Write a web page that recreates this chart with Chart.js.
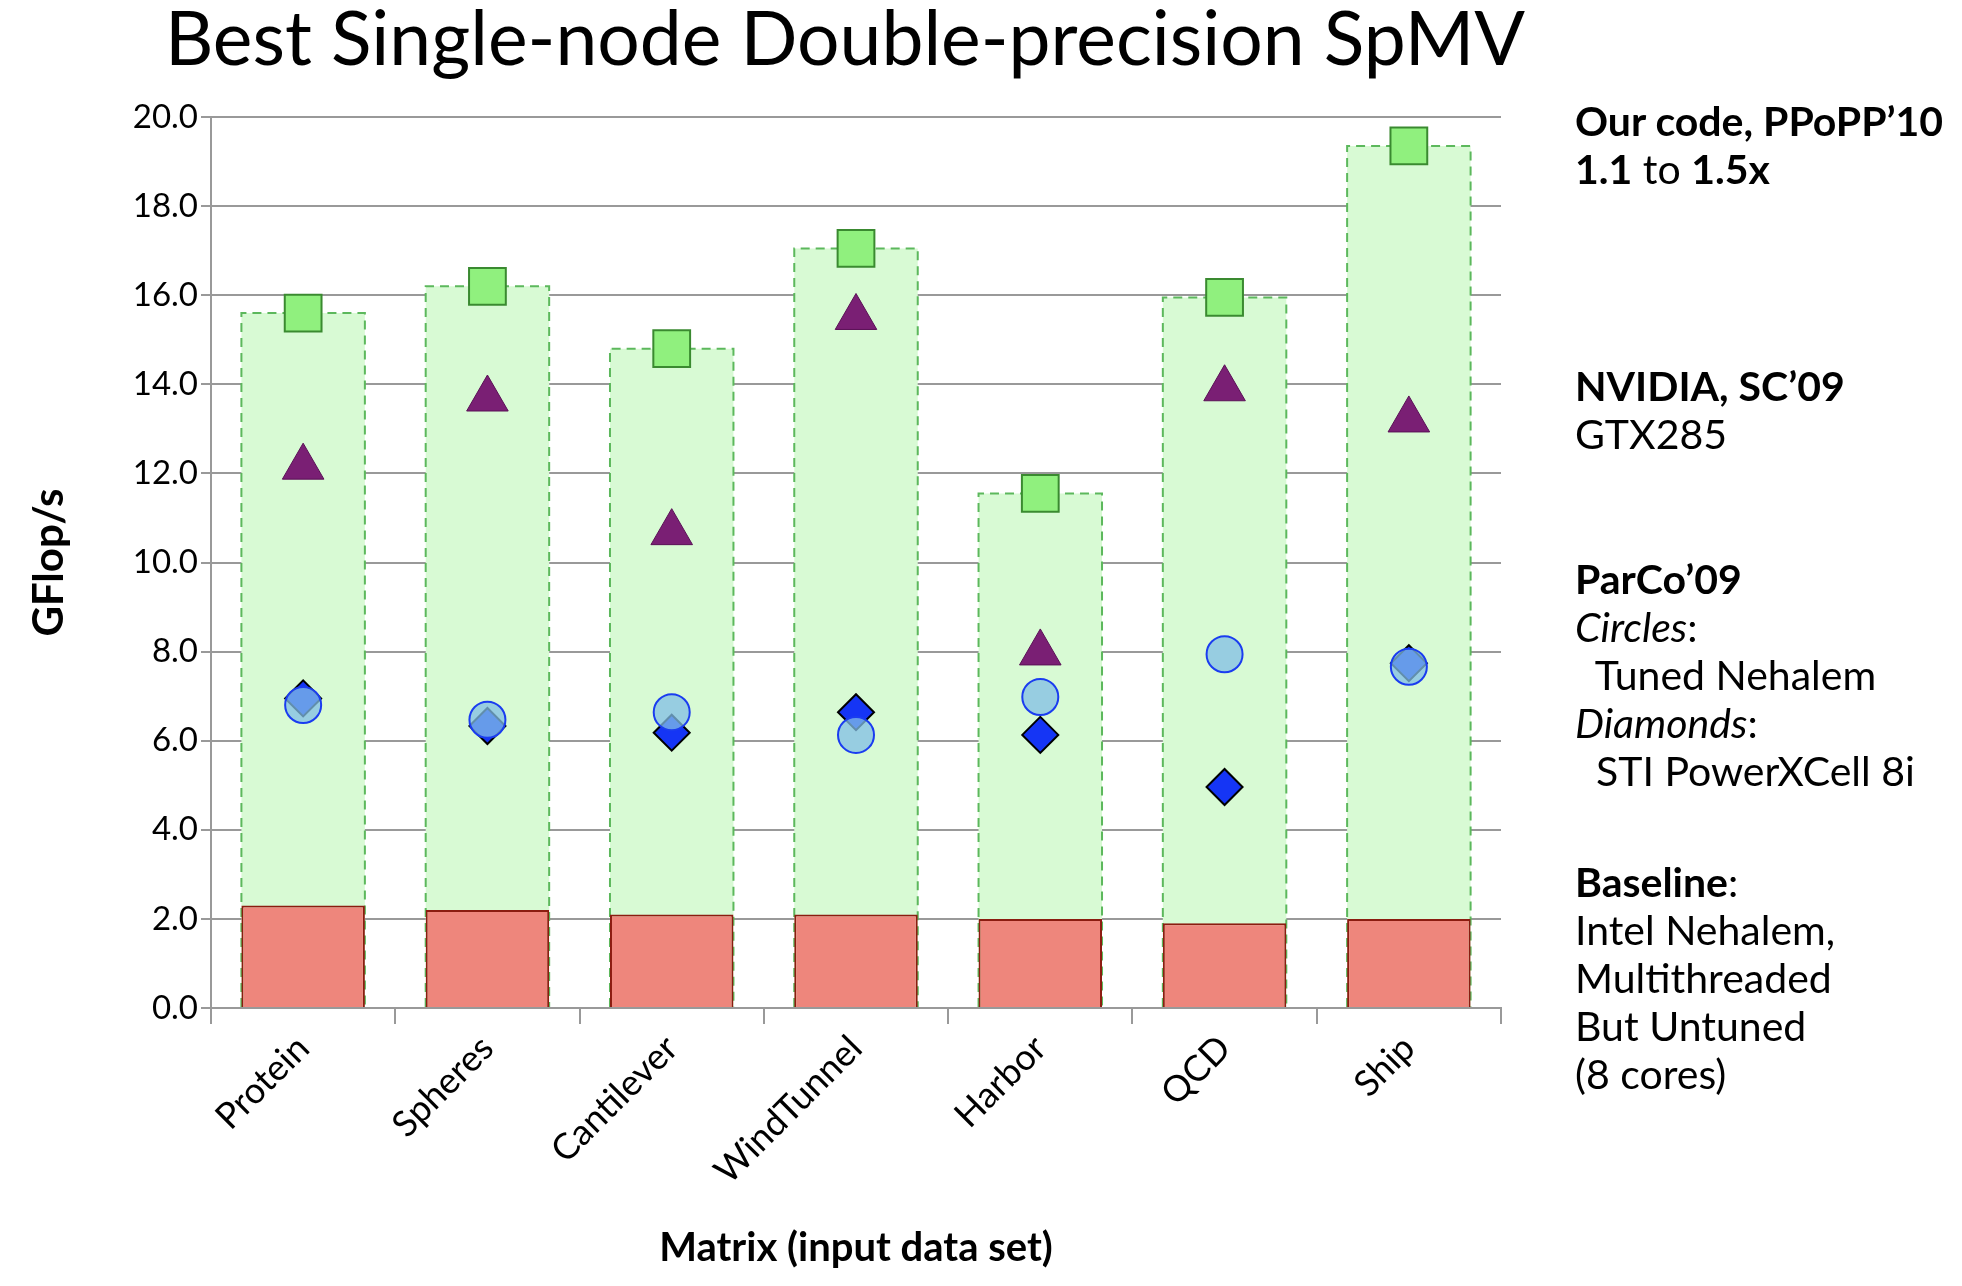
<!DOCTYPE html>
<html>
<head>
<meta charset="UTF-8">
<script src="https://cdn.jsdelivr.net/npm/chart.js"></script>
<style>
  body { margin: 0; background: #fff; }
  #wrap { position: relative; width: 1962px; height: 1286px; }
  #title { position: absolute; left: 110px; top: -4px; width: 1470px; text-align: center;
           font-family: Lato, "Open Sans", sans-serif; font-size: 75px; color: #000; line-height: 80px; }
  .note { position: absolute; left: 1575px; font-family: Lato, "Open Sans", sans-serif; font-size: 41px; color: #000;
          line-height: 48px; white-space: pre; }
  .b { font-weight: bold; }
</style>
</head>
<body>
<div id="wrap">
  <canvas id="chart" width="1962" height="1286"></canvas>
  <div id="title">Best Single-node Double-precision SpMV</div>
  <div class="note" style="top:97px"><span class="b">Our code, PPoPP’10</span>
<span class="b">1.1</span> to <span class="b">1.5x</span></div>
  <div class="note" style="top:362px"><span class="b">NVIDIA, SC’09</span>
GTX285</div>
  <div class="note" style="top:555px"><span class="b">ParCo’09</span>
<i>Circles</i>:
  Tuned Nehalem
<i>Diamonds</i>:
  STI PowerXCell 8i</div>
  <div class="note" style="top:858px"><span class="b">Baseline</span>:
Intel Nehalem,
Multithreaded
But Untuned
(8 cores)</div>
</div>
<script>
const matrices = ["Protein", "Spheres", "Cantilever", "WindTunnel", "Harbor", "QCD", "Ship"];
const baseline = [2.3, 2.2, 2.1, 2.1, 2.0, 1.9, 2.0];
const ourCode = [15.6, 16.2, 14.8, 17.05, 11.55, 15.95, 19.35];
const nvidia = [12.14, 13.67, 10.67, 15.5, 7.97, 13.9, 13.2];
const tunedNehalem = [6.8, 6.47, 6.64, 6.13, 6.98, 7.94, 7.66];
const cell = [6.95, 6.33, 6.18, 6.64, 6.13, 4.96, 7.74];

// dashed outline for the green bars
const dashedOutline = {
  id: 'dashedOutline',
  afterDatasetDraw(chart, args) {
    if (args.index !== 0) return;
    const ctx = chart.ctx;
    ctx.save();
    ctx.strokeStyle = '#5cb85c';
    ctx.lineWidth = 2;
    ctx.setLineDash([9, 6]);
    args.meta.data.forEach(bar => {
      const l = bar.x - bar.width / 2, r = bar.x + bar.width / 2;
      ctx.beginPath();
      ctx.moveTo(l, bar.base);
      ctx.lineTo(l, bar.y);
      ctx.lineTo(r, bar.y);
      ctx.lineTo(r, bar.base);
      ctx.stroke();
    });
    ctx.restore();
  }
};

new Chart(document.getElementById('chart'), {
  data: {
    labels: matrices,
    datasets: [
      { type: 'bar', data: ourCode, backgroundColor: '#d8fad4', borderWidth: 0,
        grouped: false, categoryPercentage: 0.67, barPercentage: 1, order: 6 },
      { type: 'bar', data: baseline, backgroundColor: '#ee867c', borderColor: '#8b1c10', borderWidth: 2,
        grouped: false, categoryPercentage: 0.67, barPercentage: 1, order: 5 },
      { type: 'line', data: ourCode, showLine: false, pointStyle: 'rect', pointRadius: 26,
        pointBackgroundColor: '#90f07e', pointBorderColor: '#3a8a30', pointBorderWidth: 2, order: 4 },
      { type: 'line', data: nvidia, showLine: false, pointStyle: 'triangle', pointRadius: 24,
        pointBackgroundColor: '#7a1f74', pointBorderColor: '#5a1056', pointBorderWidth: 1, order: 3 },
      { type: 'line', data: cell, showLine: false, pointStyle: 'rectRot', pointRadius: 18,
        pointBackgroundColor: '#1535f5', pointBorderColor: '#000', pointBorderWidth: 2, order: 2 },
      { type: 'line', data: tunedNehalem, showLine: false, pointStyle: 'circle', pointRadius: 18,
        pointBackgroundColor: 'rgba(130,190,230,0.75)', pointBorderColor: '#1a3cf0', pointBorderWidth: 2, order: 1 }
    ]
  },
  options: {
    responsive: false,
    animation: false,
    layout: { padding: { left: 20, right: 461, top: 117, bottom: 10 } },
    plugins: { legend: { display: false }, tooltip: { enabled: false } },
    scales: {
      x: {
        offset: true,
        grid: { offset: true, drawOnChartArea: false, color: '#999', lineWidth: 2, tickLength: 16 },
        border: { color: '#999', width: 2 },
        ticks: { maxRotation: 45, minRotation: 45, color: '#000',
                 font: { family: 'Lato, "Open Sans", sans-serif', size: 36 } },
        title: { display: true, text: 'Matrix (input data set)', color: '#000', padding: { top: 4 },
                 font: { family: 'Lato, "Open Sans", sans-serif', size: 40, weight: 'bold' } },
        afterFit: s => { s.height = 268; }
      },
      y: {
        min: 0, max: 20,
        grid: { color: '#999', lineWidth: 2, tickLength: 10 },
        border: { color: '#999', width: 2 },
        ticks: { stepSize: 2, color: '#000', callback: v => v.toFixed(1),
                 font: { family: 'Lato, "Open Sans", sans-serif', size: 33 } },
        title: { display: true, text: 'GFlop/s', color: '#000',
                 font: { family: 'Lato, "Open Sans", sans-serif', size: 42, weight: 'bold' } },
        afterFit: s => { s.width = 191; }
      }
    }
  },
  plugins: [dashedOutline]
});
</script>
</body>
</html>
